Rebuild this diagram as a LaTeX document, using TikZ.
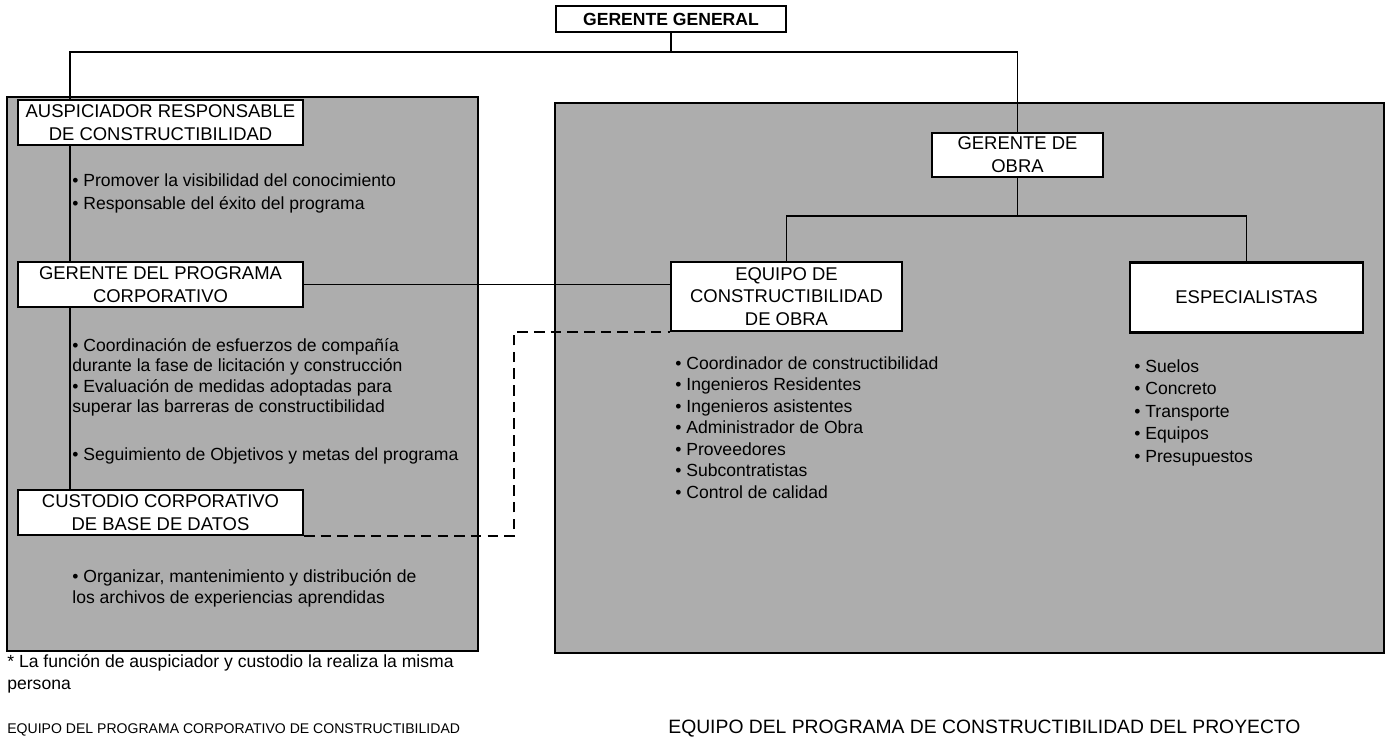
\documentclass[tikz,border=0pt]{standalone}
\usepackage{fontspec}
\setmainfont{Liberation Sans}
\begin{document}
\begin{tikzpicture}[x=0.02cm,y=-0.02cm,
  panel/.style={draw=black, line width=1.2pt, fill=black!32},
  box/.style={draw=black, line width=1.2pt, fill=white, inner sep=0pt, align=center,
    font=\fontsize{10.5}{13}\selectfont},
  topbox/.style={box, font=\fontsize{10}{12}\selectfont\bfseries},
  link/.style={draw=black, line width=0.8pt},
  dlink/.style={draw=black, line width=1.4pt, dash pattern=on 6pt off 3.5pt},
  item/.style={anchor=base west, inner sep=0pt, font=\fontsize{10}{12}\selectfont},
  note/.style={anchor=base west, inner sep=0pt, font=\fontsize{10}{12}\selectfont},
]
\useasboundingbox (0,0) rectangle (1386,745);

% shaded team areas
\path[panel] (7,97) rectangle (478,651);
\path[panel] (555,103) rectangle (1384,653);

% boxes
\node[topbox, minimum width=4.6cm, minimum height=0.52cm] (gg) at (671,19) {GERENTE GENERAL};
\node[box, minimum width=5.7cm, minimum height=0.9cm] (aus) at (160.5,122.5)
  {AUSPICIADOR RESPONSABLE\\DE CONSTRUCTIBILIDAD};
\node[box, minimum width=5.7cm, minimum height=0.9cm] (prog) at (160.5,284.5)
  {GERENTE DEL PROGRAMA\\CORPORATIVO};
\node[box, minimum width=5.7cm, minimum height=0.9cm] (cus) at (160.5,512.5)
  {CUSTODIO CORPORATIVO\\DE BASE DE DATOS};
\node[box, minimum width=3.42cm, minimum height=0.88cm] (gdo) at (1017.5,155)
  {GERENTE DE\\OBRA};
\node[box, minimum width=4.62cm, minimum height=1.38cm] (eq) at (786.5,296.5)
  {EQUIPO DE\\CONSTRUCTIBILIDAD\\DE OBRA};
\node[box, minimum width=4.66cm, minimum height=1.4cm] (esp) at (1246.5,297.5)
  {ESPECIALISTAS};

% junction points
\coordinate (busL) at (70,52);
\coordinate (busM) at (671,52);
\coordinate (busR) at (1017.5,52);
\coordinate (jn) at (1017.5,216);

% reporting lines
\draw[link] (gg.south) -- (busM);
\draw[link] (busL |- aus.north) -- (busL) -- (busR) -- (gdo.north);
\draw[link] (busL |- aus.south) -- (busL |- prog.north);
\draw[link] (busL |- prog.south) -- (busL |- cus.north);
\draw[link] (prog.east) -- (prog.east -| eq.west);
\draw[link] (gdo.south) -- (jn);
\draw[link] (eq.north) |- (jn -| esp.north) -- (esp.north);
\draw[dlink] (cus.south east) -- ++(210,0) |- (eq.south west);

% duties of the corporate team
\node[item] (a1) at (72,186) {• Promover la visibilidad del conocimiento};
\node[item] (a2) at (72,209) {• Responsable del éxito del programa};
\node[item] (p1) at (72,351) {• Coordinación de esfuerzos de compañía};
\node[item] (p2) at (72,371) {durante la fase de licitación y construcción};
\node[item] (p3) at (72,392) {• Evaluación de medidas adoptadas para};
\node[item] (p4) at (72,412) {superar las barreras de constructibilidad};
\node[item] (p5) at (72,460) {• Seguimiento de Objetivos y metas del programa};
\node[item] (c1) at (72,582) {• Organizar, mantenimiento y distribución de};
\node[item] (c2) at (72,603) {los archivos de experiencias aprendidas};

% members of the site team
\node[item] (e1) at (675,369) {• Coordinador de constructibilidad};
\node[item] (e2) at (675,390.5) {• Ingenieros Residentes};
\node[item] (e3) at (675,412) {• Ingenieros asistentes};
\node[item] (e4) at (675,433.5) {• Administrador de Obra};
\node[item] (e5) at (675,455) {• Proveedores};
\node[item] (e6) at (675,476.5) {• Subcontratistas};
\node[item] (e7) at (675,498) {• Control de calidad};

% specialists
\node[item] (s1) at (1134,372) {• Suelos};
\node[item] (s2) at (1134,394.5) {• Concreto};
\node[item] (s3) at (1134,417) {• Transporte};
\node[item] (s4) at (1134,439.5) {• Equipos};
\node[item] (s5) at (1134,462) {• Presupuestos};

% footnote and captions
\node[note] (fn1) at (7,667) {* La función de auspiciador y custodio la realiza la misma};
\node[note] (fn2) at (7,689) {persona};
\node[anchor=base west, inner sep=0pt, font=\fontsize{8}{9}\selectfont] (capL) at (7,733)
  {EQUIPO DEL PROGRAMA CORPORATIVO DE CONSTRUCTIBILIDAD};
\node[anchor=base west, inner sep=0pt, font=\fontsize{11}{13}\selectfont] (capR) at (668,733)
  {EQUIPO DEL PROGRAMA DE CONSTRUCTIBILIDAD DEL PROYECTO};
\end{tikzpicture}
\end{document}
